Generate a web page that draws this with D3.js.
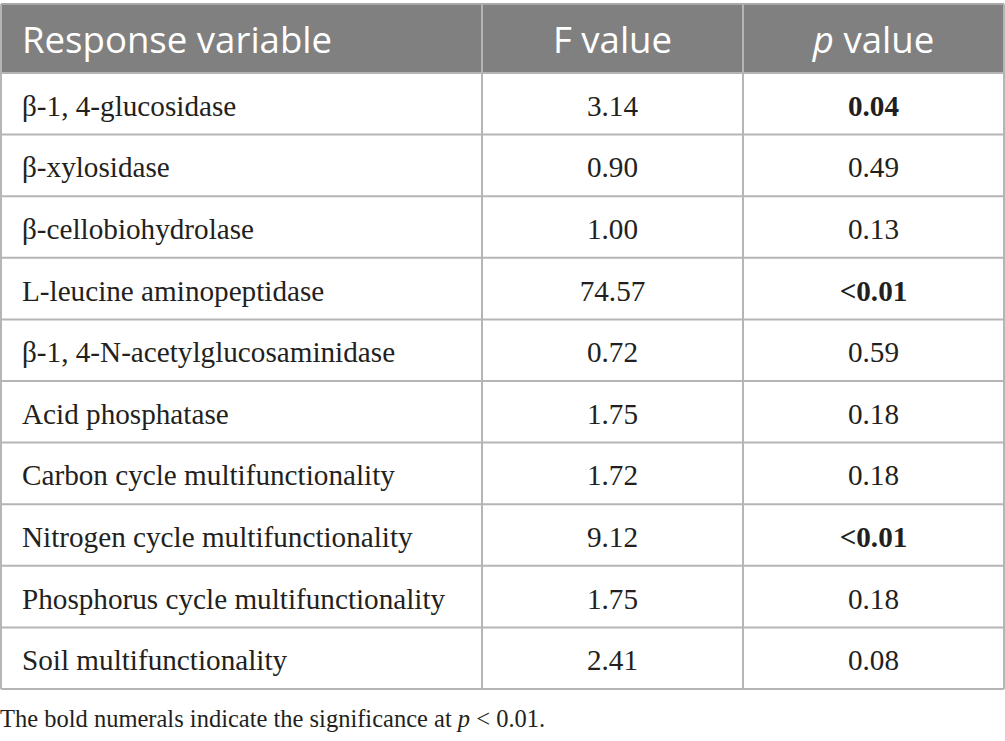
<!DOCTYPE html>
<html>
<head>
<meta charset="utf-8">
<script src="https://cdn.jsdelivr.net/npm/d3@7"></script>
<style>
  body { margin: 0; background: white; }
</style>
</head>
<body>
<script>
const headers = ['Response variable', 'F value', 'p value']
const variables = [
    'β-1, 4-glucosidase',
    'β-xylosidase',
    'β-cellobiohydrolase',
    'L-leucine aminopeptidase',
    'β-1, 4-N-acetylglucosaminidase',
    'Acid phosphatase',
    'Carbon cycle multifunctionality',
    'Nitrogen cycle multifunctionality',
    'Phosphorus cycle multifunctionality',
    'Soil multifunctionality'
]
const fValues = ['3.14', '0.90', '1.00', '74.57', '0.72', '1.75', '1.72', '9.12', '1.75', '2.41']
const pValues = ['0.04', '0.49', '0.13', '<0.01', '0.59', '0.18', '0.18', '<0.01', '0.18', '0.08']
const boldP = [true, false, false, true, false, false, false, true, false, false]
const note = 'The bold numerals indicate the significance at '

function main(){
    const width = 1005, height = 741
    let svg = d3.select('body')
        .append('svg')
        .attr('width', width)
        .attr('height', height)

    const left = 1, right = 1004, top = 4, headBottom = 73, bottom = 689
    const colEdges = [left, 482, 743, right]

    let yScale = d3.scaleBand()
        .domain(d3.range(variables.length))
        .range([headBottom, bottom])

    const lineColor = '#b5b5b5'
    const serif = '"Liberation Serif", "DejaVu Serif", serif'
    const sans = '"Open Sans", "Noto Sans", sans-serif'
    const bodySize = '29.2px'
    const headSize = '36.6px'

    // header band
    svg.append('rect')
        .attr('x', left)
        .attr('y', top)
        .attr('width', right - left)
        .attr('height', headBottom - top)
        .attr('fill', '#808080')

    // horizontal row lines
    svg.selectAll('line.row')
        .data(d3.range(variables.length + 1))
        .enter()
        .append('line')
        .attr('class', 'row')
        .attr('x1', left)
        .attr('x2', right)
        .attr('y1', d => d == variables.length ? bottom : yScale(d))
        .attr('y2', d => d == variables.length ? bottom : yScale(d))
        .attr('stroke', lineColor)
        .attr('stroke-width', 2)

    svg.append('line')
        .attr('x1', left).attr('x2', right)
        .attr('y1', top).attr('y2', top)
        .attr('stroke', '#a8a8a8')
        .attr('stroke-width', 2)

    // vertical lines
    svg.selectAll('line.col')
        .data(colEdges)
        .enter()
        .append('line')
        .attr('class', 'col')
        .attr('x1', d => d)
        .attr('x2', d => d)
        .attr('y1', top)
        .attr('y2', bottom)
        .attr('stroke', lineColor)
        .attr('stroke-width', 2)

    const colCenter = i => (colEdges[i] + colEdges[i + 1]) / 2
    const headY = 53

    // headers
    svg.append('text')
        .attr('x', 22)
        .attr('y', headY)
        .attr('font-family', sans)
        .attr('font-size', headSize)
        .attr('fill', 'white')
        .text(headers[0])
    svg.append('text')
        .attr('x', colCenter(1))
        .attr('y', headY)
        .attr('text-anchor', 'middle')
        .attr('font-family', sans)
        .attr('font-size', headSize)
        .attr('fill', 'white')
        .text(headers[1])
    let ph = svg.append('text')
        .attr('x', colCenter(2))
        .attr('y', headY)
        .attr('text-anchor', 'middle')
        .attr('font-family', sans)
        .attr('font-size', headSize)
        .attr('fill', 'white')
    ph.append('tspan').attr('font-style', 'italic').text(headers[2].slice(0, 1))
    ph.append('tspan').text(headers[2].slice(1))

    const rowY = i => yScale(i) + yScale.bandwidth() / 2 + 12

    svg.selectAll('text.var')
        .data(variables)
        .enter()
        .append('text')
        .attr('class', 'var')
        .attr('x', 22)
        .attr('y', (d, i) => rowY(i))
        .attr('font-family', serif)
        .attr('font-size', bodySize)
        .attr('fill', '#231f20')
        .text(d => d)

    svg.selectAll('text.f')
        .data(fValues)
        .enter()
        .append('text')
        .attr('class', 'f')
        .attr('x', colCenter(1))
        .attr('y', (d, i) => rowY(i))
        .attr('text-anchor', 'middle')
        .attr('font-family', serif)
        .attr('font-size', bodySize)
        .attr('fill', '#231f20')
        .text(d => d)

    svg.selectAll('text.p')
        .data(pValues)
        .enter()
        .append('text')
        .attr('class', 'p')
        .attr('x', colCenter(2))
        .attr('y', (d, i) => rowY(i))
        .attr('text-anchor', 'middle')
        .attr('font-family', serif)
        .attr('font-size', bodySize)
        .attr('font-weight', (d, i) => boldP[i] ? 'bold' : 'normal')
        .attr('fill', '#231f20')
        .text(d => d)

    // footnote
    let fn = svg.append('text')
        .attr('x', 0)
        .attr('y', 727)
        .attr('font-family', serif)
        .attr('font-size', '24.5px')
        .attr('fill', '#231f20')
    fn.append('tspan').text(note)
    fn.append('tspan').attr('font-style', 'italic').text('p')
    fn.append('tspan').text(' < 0.01.')
}

main()
</script>
</body>
</html>
